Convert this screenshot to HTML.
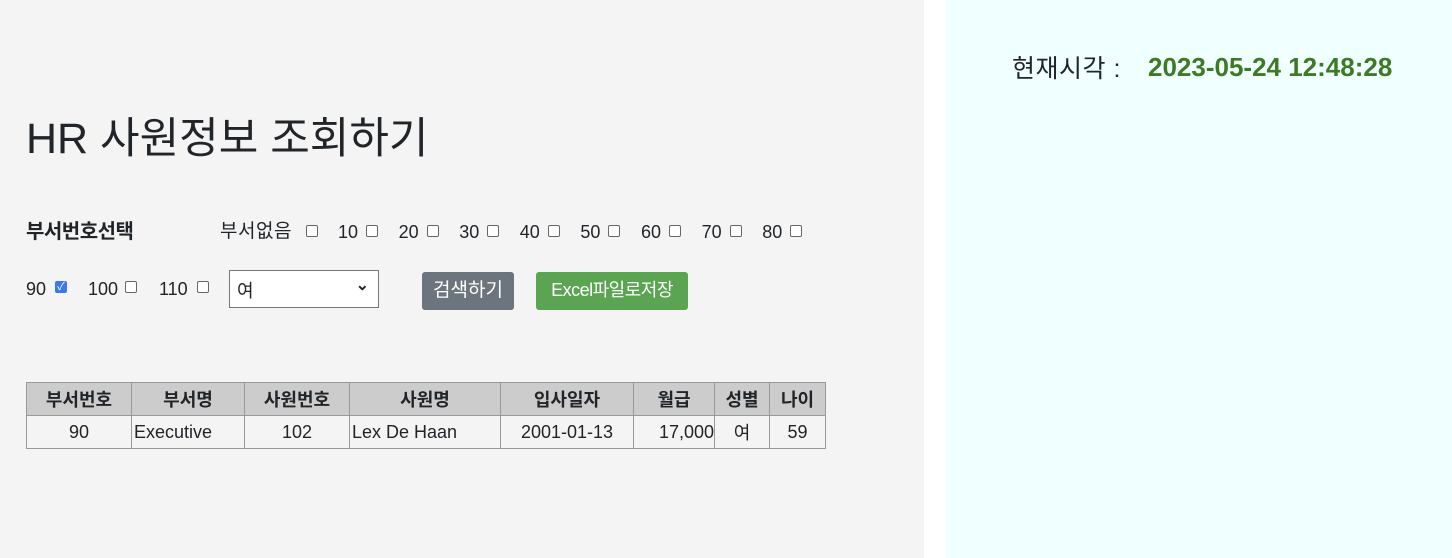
<!DOCTYPE html>
<html><head><meta charset="utf-8"><style>
body{margin:0;width:1452px;height:558px;position:relative;overflow:hidden;font-family:"Liberation Sans","Noto Sans CJK KR",sans-serif;color:#212529;background:#fff}
.abs{position:absolute}
#left{left:0;top:0;width:924px;height:558px;background:#f4f4f4}
#right{left:946px;top:0;width:506px;height:558px;background:#f0ffff}
.t{font-size:18px;line-height:20px;white-space:nowrap}
.cb{width:12px;height:12px;border:1px solid #666;border-radius:2px;background:#fff;display:inline-block;box-sizing:border-box}
.cb.on{background:#3b78f0;border-color:#3b78f0;color:#fff;font-size:11px;line-height:11px;text-align:center}
table{border-collapse:collapse;font-size:18px;table-layout:fixed;width:799px}
td,th{border:1px solid #999;padding:0 2px;height:32px;white-space:nowrap;overflow:hidden}
th{background:#ccc;font-weight:bold}
</style></head><body>
<div id="left" class="abs"></div>
<div id="right" class="abs"></div>
<div class="abs" style="left:1012px;top:49px;font-size:25px;white-space:nowrap;letter-spacing:0.5px">현재시각 :</div>
<b class="abs" style="left:1148px;top:52px;color:#3d7a24;font-size:26px;white-space:nowrap">2023-05-24 12:48:28</b>
<div class="abs" style="left:26px;top:104px;font-size:43px;white-space:nowrap">HR 사원정보 조회하기</div>
<div class="abs t" style="left:26px;top:222px;font-weight:bold;font-size:20px;letter-spacing:-0.5px">부서번호선택</div>
<div class="abs t" style="left:220px;top:222px;font-size:19px;letter-spacing:0.5px">부서없음</div>
<span class="abs cb" style="left:306px;top:225px"></span>
<div id="row1"></div>
<div class="abs t" style="left:26px;top:279px">90</div>
<span class="abs cb on" style="left:55px;top:281px">✓</span>
<div class="abs t" style="left:88px;top:279px">100</div>
<span class="abs cb" style="left:125px;top:281px"></span>
<div class="abs t" style="left:159px;top:279px">110</div>
<span class="abs cb" style="left:197px;top:281px"></span>
<div class="abs" style="left:229px;top:270px;width:150px;height:38px;box-sizing:border-box;border:1px solid #777;background:#fff;font-size:18px"><span style="position:absolute;left:7px;top:6px">여</span><span style="position:absolute;right:9px;top:4px;font-size:16px;font-weight:bold">&#x2304;</span></div>
<div class="abs" style="left:422px;top:272px;width:92px;height:38px;background:#6c757d;border-radius:3px;color:#fff;font-size:19px;line-height:37px;text-align:center">검색하기</div>
<div class="abs" style="left:536px;top:272px;width:152px;height:38px;background:#5ba552;border-radius:3px;color:#fff;font-size:18px;line-height:37px;text-align:center;letter-spacing:-0.5px">Excel파일로저장</div>
<table class="abs" style="left:26px;top:382px">
<colgroup><col style="width:105px"><col style="width:113px"><col style="width:105px"><col style="width:151px"><col style="width:133px"><col style="width:81px"><col style="width:55px"><col style="width:56px"></colgroup>
<tr><th>부서번호</th><th>부서명</th><th>사원번호</th><th>사원명</th><th>입사일자</th><th>월급</th><th>성별</th><th>나이</th></tr>
<tr><td style="text-align:center">90</td><td>Executive</td><td style="text-align:center">102</td><td>Lex De Haan</td><td style="text-align:center">2001-01-13</td><td style="text-align:right;padding-right:0">17,000</td><td style="text-align:center">여</td><td style="text-align:center">59</td></tr>
</table>
<script>
const depts=["10","20","30","40","50","60","70","80"];
const r=document.getElementById('row1');
depts.forEach((d,i)=>{
 const x=338+i*60.6;
 const t=document.createElement('div');t.className='abs t';t.style.left=x+'px';t.style.top='222px';t.textContent=d;
 
 
 r.appendChild(t);
 const c=document.createElement('span');c.className='abs cb';c.style.left=(x+28)+'px';c.style.top='225px';
 
 
 r.appendChild(c);
});
</script>
</body></html>
